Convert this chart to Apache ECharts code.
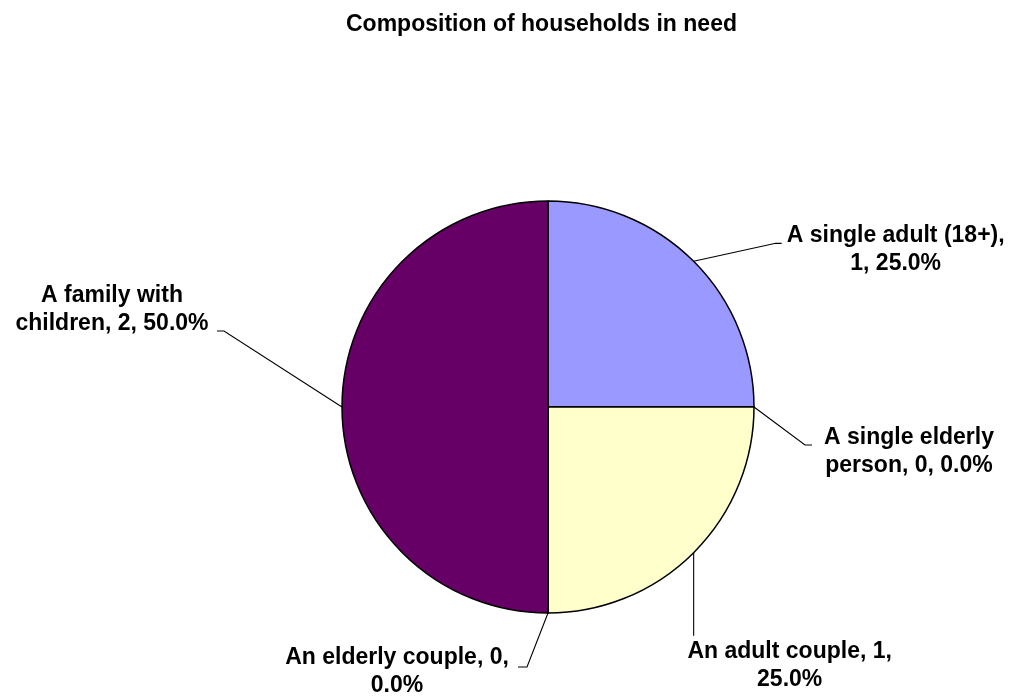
<!DOCTYPE html>
<html>
<head>
<meta charset="utf-8">
<title>Composition of households in need</title>
<script src="https://cdn.jsdelivr.net/npm/echarts@6/dist/echarts.min.js"></script>
<style>
  html, body { margin: 0; padding: 0; background: #ffffff; }
  #chart { width: 1013px; height: 697px; }
</style>
</head>
<body>
<div id="chart"></div>
<script>
// Household types, in clockwise order starting at 12 o'clock
const categories = [
  'A single adult (18+)',
  'A single elderly person',
  'An adult couple',
  'An elderly couple',
  'A family with children'
];
const counts = [1, 0, 1, 0, 2];
const sliceColors = ['#9999FF', '#993366', '#FFFFCC', '#CCFFFF', '#660066'];
// Number of words kept on the first line of each label
const firstLineWords = [4, 3, 4, 4, 3];

// Leader-line elbows and label centres, as offsets from the slice's anchor point
const labelGeometry = [
  { line: [[82, -18], [88, -18]], text: [202, -12] },
  { line: [[51, 38], [58, 38]], text: [155, 45] },
  { line: [[0, 83]], text: [96, 113] },
  { line: [[-21, 54], [-30, 54]], text: [-151, 59] },
  { line: [[-118, -76], [-125, -76]], text: [-230, -97] }
];

const FONT = '"Liberation Sans", Arial, Helvetica, sans-serif';

const chart = echarts.init(document.getElementById('chart'), null, { renderer: 'canvas' });

chart.setOption({
  backgroundColor: '#ffffff',
  animation: false,
  title: {
    text: 'Composition of households in need',
    left: 346,
    top: 13,
    padding: 0,
    textStyle: { fontFamily: FONT, fontWeight: 'bold', fontSize: 23, color: '#000000' }
  },
  series: [{
    type: 'pie',
    center: [548, 407],
    radius: [0, 206],
    startAngle: 90,
    clockwise: true,
    avoidLabelOverlap: false,
    minAngle: 0,
    data: categories.map((name, i) => ({
      name: name,
      value: counts[i],
      itemStyle: { color: sliceColors[i] }
    })),
    itemStyle: { borderColor: '#000000', borderWidth: 1.5 },
    emphasis: { disabled: true },
    label: {
      show: true,
      position: 'outside',
      fontFamily: FONT,
      fontWeight: 'bold',
      fontSize: 23,
      lineHeight: 28,
      color: '#000000',
      align: 'center',
      formatter: (p) => {
        const words = `${p.name}, ${p.value}, ${p.percent.toFixed(1)}%`.split(' ');
        const n = firstLineWords[p.dataIndex];
        return words.slice(0, n).join(' ') + '\n' + words.slice(n).join(' ');
      }
    },
    labelLine: {
      show: true,
      length: 20,
      length2: 10,
      lineStyle: { color: '#000000', width: 1.1 }
    },
    labelLayout: (params) => {
      const g = labelGeometry[params.dataIndex];
      const anchor = params.labelLinePoints[0];
      const pts = [anchor].concat(g.line.map(d => [anchor[0] + d[0], anchor[1] + d[1]]));
      return {
        x: anchor[0] + g.text[0],
        y: anchor[1] + g.text[1],
        align: 'center',
        verticalAlign: 'middle',
        labelLinePoints: pts
      };
    }
  }]
});
</script>
</body>
</html>
